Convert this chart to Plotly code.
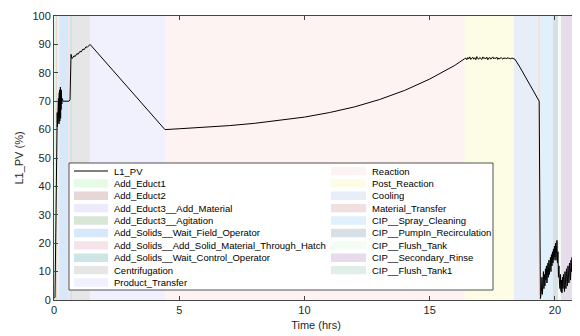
import plotly.graph_objects as go

# ---------------- data ----------------
phase_names = [
    "Add_Educt1", "Add_Educt2", "Add_Educt3__Add_Material", "Add_Educt3__Agitation",
    "Add_Solids__Wait_Field_Operator", "Add_Solids__Add_Solid_Material_Through_Hatch",
    "Add_Solids__Wait_Control_Operator", "Centrifugation", "Product_Transfer",
    "Reaction", "Post_Reaction", "Cooling", "Material_Transfer",
    "CIP__Spray_Cleaning", "CIP__PumpIn_Recirculation", "CIP__Flush_Tank",
    "CIP__Secondary_Rinse", "CIP__Flush_Tank1",
]
phase_start = [0.00, 0.06, 0.12, 0.18, 0.22, 0.56, 0.62, 0.72, 1.44,
               4.43, 16.40, 18.36, 19.33, 19.43, 19.91, 20.13, 20.24, 20.71]
phase_end = [0.06, 0.12, 0.18, 0.22, 0.56, 0.62, 0.72, 1.44, 4.43,
             16.40, 18.36, 19.33, 19.43, 19.91, 20.13, 20.24, 20.71, 20.90]
phase_colors = [
    "#e6fbe6", "#e6d6d6", "#ebebfb", "#d8e6d8", "#d8e8fb", "#f6e3ea",
    "#cde5e5", "#e6e6e6", "#f1f1fe", "#fdf3f3", "#fdfde6", "#e8eef8",
    "#f1e0e0", "#dff1fd", "#d8e0e6", "#f4fdf4", "#e6dcec", "#e0eeea",
]

# L1_PV signal (hours, %)
start_t = [0.00, 0.04, 0.08, 0.10, 0.12, 0.128, 0.136, 0.144, 0.152, 0.16, 0.168, 0.176,
           0.184, 0.192, 0.20, 0.208, 0.216, 0.224, 0.232, 0.24, 0.248, 0.256, 0.264,
           0.272, 0.28, 0.288, 0.296, 0.304, 0.312, 0.32, 0.33, 0.36, 0.60, 0.64,
           0.68, 0.72, 0.80, 0.84, 0.92, 0.96, 1.04, 1.08, 1.16, 1.20, 1.28, 1.32, 1.44,
           2.5, 3.5, 4.43]
start_v = [0.5, 1.0, 30.0, 58.0, 61.0, 66.0, 61.0, 68.0, 62.0, 70.0, 63.0, 71.0,
           64.0, 72.0, 62.0, 73.0, 65.0, 74.0, 63.0, 72.0, 66.0, 75.0, 64.0,
           73.0, 67.0, 74.0, 68.0, 72.0, 69.0, 71.0, 70.0, 70.0, 70.0, 70.5,
           86.5, 85.0, 86.0, 85.7, 86.8, 86.5, 87.6, 87.3, 88.4, 88.1, 89.2, 88.9, 90.0,
           79.4, 69.4, 60.0]

reaction_t = [5.0, 6.0, 7.0, 8.0, 9.0, 10.0, 11.0, 12.0, 13.0, 14.0, 15.0, 16.0, 16.40]
reaction_v = [60.3, 60.8, 61.4, 62.2, 63.2, 64.4, 66.0, 68.0, 70.6, 73.8, 77.8, 82.6, 85.0]

plateau_t = [16.44, 16.48, 16.52, 16.56, 16.60, 16.64, 16.68, 16.72, 16.76, 16.80,
             16.84, 16.88, 16.92, 16.96, 17.00, 17.04, 17.08, 17.12, 17.16, 17.20,
             17.24, 17.28, 17.32, 17.36, 17.40, 17.44, 17.48, 17.52, 17.56, 17.60,
             17.64, 17.68, 17.72, 17.76, 17.80, 17.84, 17.88, 17.92, 17.96, 18.00,
             18.04, 18.08, 18.12, 18.16, 18.20, 18.24, 18.28, 18.32]
plateau_v = [85.2, 84.6, 85.4, 84.9, 85.6, 84.7, 85.1, 85.5, 84.8, 85.3,
             84.6, 85.7, 85.0, 84.8, 85.4, 85.2, 84.7, 85.6, 85.0, 85.3,
             84.9, 85.5, 84.6, 85.2, 85.4, 84.8, 85.1, 85.6, 84.9, 85.3,
             85.0, 85.5, 84.7, 85.2, 84.9, 85.4, 85.1, 84.8, 85.3, 85.0,
             85.2, 84.9, 85.4, 85.0, 85.1, 84.9, 85.2, 85.0]

cooling_t = [18.40, 18.60, 18.80, 19.00, 19.20, 19.37, 19.42]
cooling_v = [84.8, 82.0, 79.0, 76.0, 72.8, 70.0, 0.5]

cip_t = [19.46, 19.48, 19.50, 19.52, 19.54, 19.56, 19.58, 19.60, 19.62, 19.64,
         19.66, 19.68, 19.70, 19.72, 19.74, 19.76, 19.78, 19.80, 19.82, 19.84,
         19.86, 19.88, 19.90, 19.92, 19.94, 19.96, 19.98, 20.00, 20.02, 20.04,
         20.06, 20.08, 20.10, 20.12, 20.14, 20.16, 20.18, 20.20, 20.22, 20.24,
         20.26, 20.28, 20.30, 20.32, 20.34, 20.36, 20.38, 20.40, 20.42, 20.44,
         20.46, 20.48, 20.50, 20.52, 20.54, 20.56, 20.58, 20.60, 20.62, 20.64,
         20.66, 20.68, 20.70, 20.72, 20.74, 20.76, 20.78, 20.80, 20.82, 20.84,
         20.86, 20.88, 20.90]
cip_v = [3, 8, 2, 6, 10, 4, 9, 5, 11, 7,
         12, 6, 10, 13, 8, 14, 9, 12, 15, 10,
         16, 12, 17, 13, 18, 14, 19, 15, 20, 14,
         18, 21, 13, 17, 8, 12, 6, 4, 9, 3,
         7, 2.5, 8, 4, 9, 5, 3, 10, 6, 4,
         11, 7, 5, 12, 8, 6, 13, 9, 7, 14,
         10, 15, 8, 12, 6, 11, 9, 13, 7, 10,
         8, 5, 0.5]

time_hrs = start_t + reaction_t + plateau_t + cooling_t + cip_t
l1_pv = start_v + reaction_v + plateau_v + cooling_v + cip_v

x_ticks = [0, 5, 10, 15, 20]
y_ticks = [0, 10, 20, 30, 40, 50, 60, 70, 80, 90, 100]

# ---------------- figure ----------------
FONT = "Liberation Sans, Arial, Helvetica, sans-serif"
TXT = "#262626"

fig = go.Figure()
fig.add_trace(go.Scatter(x=time_hrs, y=l1_pv, mode="lines", name="L1_PV",
                         line=dict(color="black", width=1.0), showlegend=False))

for n, a, b, c in zip(phase_names, phase_start, phase_end, phase_colors):
    fig.add_vrect(x0=a, x1=b, fillcolor=c, opacity=1, line_width=0, layer="below")

# page geometry (the html body adds an 8 px offset)
OFF = 8
W, H = 580 - OFF, 336 - OFF
PL, PR, PT, PB = 54, 578, 16, 300          # plot area in page pixels
L, R, T, B = PL - OFF, 580 - PR, PT - OFF, 336 - PB
pw, ph = PR - PL, PB - PT


def px(x):
    return (x - PL) / pw


def py(y):
    return (PB - y) / ph


# manual legend (two columns, column-major like the reference)
fig.add_shape(type="rect", xref="paper", yref="paper", x0=px(69), x1=px(493),
              y0=py(290), y1=py(163), fillcolor="white",
              line=dict(color=TXT, width=0.8), layer="above")
row0, dy = 171.0, 12.39
col1 = ["L1_PV"] + phase_names[:9]
col2 = phase_names[9:]
cols = [(col1, 74, 108, 112), (col2, 331, 366, 370)]
for entries, sx0, sx1, tx in cols:
    for i, name in enumerate(entries):
        yc = row0 + i * dy
        if name == "L1_PV":
            fig.add_shape(type="line", xref="paper", yref="paper", x0=px(sx0), x1=px(sx1),
                          y0=py(yc), y1=py(yc), line=dict(color="black", width=1.0),
                          layer="above")
        else:
            c = phase_colors[phase_names.index(name)]
            fig.add_shape(type="rect", xref="paper", yref="paper", x0=px(sx0), x1=px(sx1),
                          y0=py(yc + 4.2), y1=py(yc - 4.2), fillcolor=c, line_width=0,
                          layer="above")
        fig.add_annotation(text=name, xref="paper", yref="paper", x=px(tx), y=py(yc),
                           xanchor="left", yanchor="middle", showarrow=False,
                           font=dict(family=FONT, size=9.5, color="black"))

axis_common = dict(showgrid=False, zeroline=False, showline=True, linecolor="#444",
                   linewidth=1, mirror="ticks", ticks="inside", ticklen=4,
                   tickcolor="#444", automargin=False,
                   tickfont=dict(family=FONT, size=11, color=TXT))
fig.update_xaxes(range=[0, 20.92], tickvals=x_ticks,
                 title=dict(text="Time (hrs)", font=dict(family=FONT, size=11, color=TXT),
                            standoff=6),
                 **axis_common)
fig.update_yaxes(range=[0, 100], tickvals=y_ticks,
                 title=dict(text="L1_PV (%)", font=dict(family=FONT, size=11, color=TXT),
                            standoff=6),
                 **axis_common)
fig.update_layout(width=W, height=H, margin=dict(l=L, r=R, t=T, b=B),
                  plot_bgcolor="white", paper_bgcolor="white", showlegend=False,
                  font=dict(family=FONT, color=TXT))
fig.write_html("out.html")
